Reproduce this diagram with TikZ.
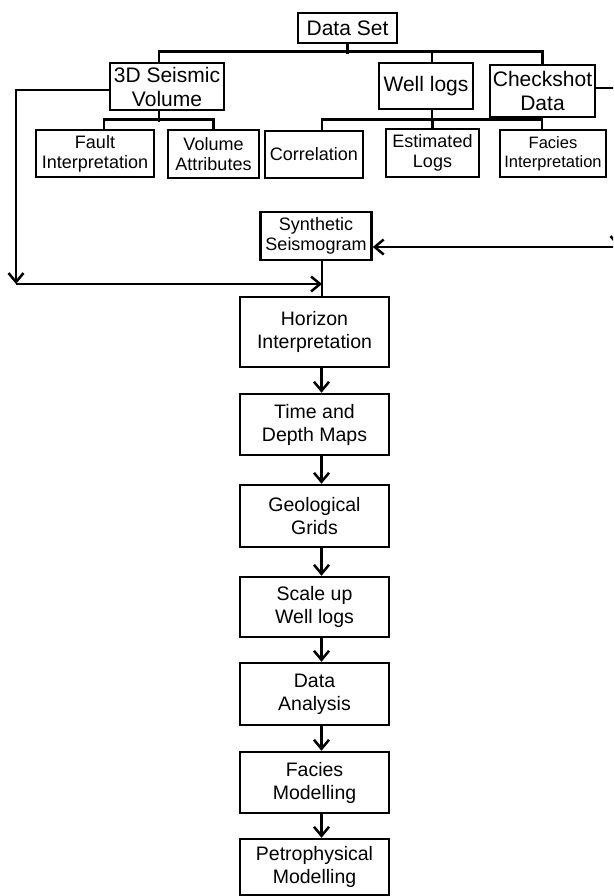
\documentclass[tikz,border=0pt]{standalone}
\usepackage{fontspec}
\setmainfont{Liberation Sans}
\usetikzlibrary{arrows.meta,calc}

\begin{document}
\begin{tikzpicture}[x=1pt, y=-1pt,
    box/.style={draw, line width=2.5pt, align=center, inner sep=1pt},
    topbox/.style={box, font=\fontsize{21}{24}\selectfont},
    subbox/.style={box, font=\fontsize{18}{20}\selectfont},
    chainbox/.style={box, minimum width=149pt, font=\fontsize{19.5}{23}\selectfont},
    link/.style={line width=2.5pt},
    arr/.style={line width=2.5pt, -{Straight Barb[length=9pt,width=15pt]}}]

    % page frame (picture is cut at the right edge)
    \useasboundingbox (0,0) rectangle (613,896);
    \clip (0,0) rectangle (613,896);

    % Data set and first level
    \node[topbox, minimum width=99pt, minimum height=30pt] (dataset) at (347.5,28) {Data Set};
    \node[topbox, minimum width=114pt, minimum height=47pt] (seismic) at (167,86.5) {3D Seismic\\Volume};
    \node[topbox, minimum width=94pt, minimum height=46pt] (welllogs) at (426,86) {Well logs};
    \node[topbox, minimum width=105pt, minimum height=52pt] (checkshot) at (542.5,91) {Checkshot\\Data};

    % second level
    \node[subbox, minimum width=118pt, minimum height=47pt] (fault) at (95,153.5) {Fault\\Interpretation};
    \node[subbox, minimum width=91pt, minimum height=48pt] (volattr) at (213.5,154) {Volume\\Attributes};
    \node[subbox, minimum width=98pt, minimum height=47pt] (correl) at (314,154.5) {Correlation};
    \node[subbox, minimum width=93pt, minimum height=48pt] (estlogs) at (432.5,153) {Estimated\\Logs};
    \node[subbox, minimum width=106pt, minimum height=47pt, font=\fontsize{16.5}{19}\selectfont] (faciesint) at (553,153.5) {Facies\\Interpretation};

    % Synthetic seismogram
    \node[subbox, minimum width=111pt, minimum height=48pt] (synth) at (316,236) {Synthetic\\Seismogram};

    % main chain
    \node[chainbox, minimum height=70pt] (horizon) at (314.5,332) {Horizon\\Interpretation};
    \node[chainbox, minimum height=61pt] (timedepth) at (314.5,424.5) {Time and\\Depth Maps};
    \node[chainbox, minimum height=62pt] (geogrids) at (314.5,516) {Geological\\Grids};
    \node[chainbox, minimum height=60pt] (scaleup) at (314.5,607) {Scale up\\Well logs};
    \node[chainbox, minimum height=62pt] (dataan) at (314.5,694) {Data\\Analysis};
    \node[chainbox, minimum height=61pt] (faciesmod) at (314.5,782.5) {Facies\\Modelling};
    \node[chainbox, minimum height=56pt] (petro) at (314.5,867) {Petrophysical\\Modelling};

    % tree below Data Set
    \draw[link] (dataset.south) -- ++(0,10);
    \draw[link] (seismic.north) ++(-8,0) -- ++(0,-10) -| (checkshot.north);
    \draw[link] (welllogs.north) ++(6,0) -- ++(0,-10);

    % tree below 3D Seismic Volume
    \draw[link] (seismic.south) ++(-8,0) -- ++(0,11);
    \draw[link] (fault.north) ++(9,0) -- ++(0,-9) -| (volattr.north);

    % tree below Well logs
    \draw[link] (welllogs.south) ++(6,0) -- ++(0,12);
    \draw[link] (correl.north) ++(8,0) -- ++(0,-10) -| ([xshift=-11pt]faciesint.north);
    \draw[link] (estlogs.north) -- ++(0,-8);

    % seismic volume round the left side
    \coordinate (lcorner) at (16,284);
    \coordinate (join) at (322,284);
    \draw[arr] (seismic.west) ++(0,3.5) -| (lcorner);
    \draw[arr] (lcorner) -- (join);
    \draw[link] ([xshift=6pt]synth.south) -- ([xshift=7.5pt]horizon.north);

    % checkshot data round the right side
    \coordinate (rcorner) at (618,247);
    \draw[arr] (checkshot.east) ++(0,-3) -| (rcorner);
    \draw[arr] (rcorner) -- ([yshift=-11pt]synth.east);

    % arrows down the chain
    \foreach \a/\b in {horizon/timedepth, timedepth/geogrids, geogrids/scaleup,
                       scaleup/dataan, dataan/faciesmod, faciesmod/petro}
        \draw[arr] ([xshift=7pt]\a.south) -- ([xshift=7pt]\b.north);
\end{tikzpicture}
\end{document}
